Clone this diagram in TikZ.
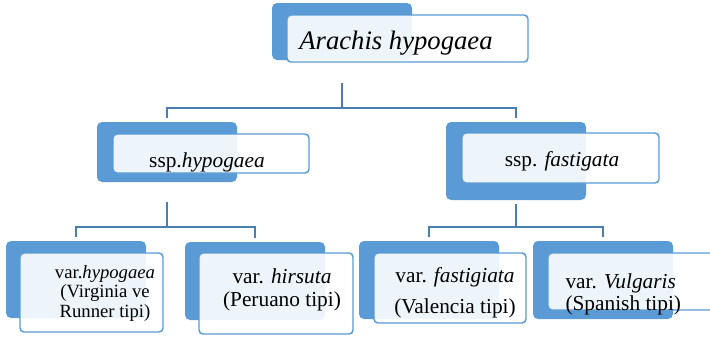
\documentclass[tikz,border=0pt]{standalone}
\usepackage{fontspec}
\setmainfont{Liberation Serif}
\usetikzlibrary{fit}
\definecolor{boxblue}{RGB}{91,155,213}
\definecolor{lineblue}{RGB}{74,126,178}
\tikzset{every picture/.style={line width=0.75pt}}
\tikzset{
  backbox/.style={fill=boxblue, draw=none, rounded corners=3.75pt, inner sep=0pt},
  frontbox/.style={fill=white, fill opacity=0.9, draw=boxblue, line width=1.1pt, rounded corners=3pt, inner sep=0pt},
  conn/.style={draw=lineblue, line width=1.5pt},
  lbl/.style={inner sep=0pt, font=\fontsize{16}{19}\selectfont}
}

\begin{document}
\begin{tikzpicture}[x=0.75pt,y=0.75pt,yscale=-1,xscale=1]
		\clip (0,0) rectangle (710,340);
		
		%Shape: Rectangle (top)
		\node[backbox, fit={(272,3) (412,60)}] (rootback) {};
		\node[frontbox, fit={(287,15) (528,62)}] (root) {};
		\node[lbl, font=\fontsize{20}{24}\selectfont\itshape, anchor=base] (roottxt) at (396,49) {Arachis hypogaea};
		
		%Shape: Rectangle (ssp)
		\node[backbox, fit={(97,122) (237,182)}] (sspAback) {};
		\node[frontbox, fit={(113,134) (309,173)}] (sspA) {};
		\node[lbl, anchor=base] (sspAtxt) at (207,167) {ssp.\textit{hypogaea}};
		
		\node[backbox, fit={(446,122) (586,200)}] (sspBback) {};
		\node[frontbox, fit={(462,133) (659,183)}] (sspB) {};
		\node[lbl, anchor=base] (sspBtxt) at (562,166) {ssp. \textit{fastigata}};
		
		%Shape: Rectangle (var)
		\node[backbox, fit={(6,241) (146,318)}] (varAback) {};
		\node[frontbox, fit={(20,253) (163,332)}] (varA) {};
		\node[lbl, font=\fontsize{14}{14.6}\selectfont, align=center, anchor=base] (varAtxt) at (105,317) {var.\textit{hypogaea}\\(Virginia ve\\Runner tipi)};
		
		\node[backbox, fit={(185,242) (325,320)}] (varBback) {};
		\node[frontbox, fit={(199,253) (353,334)}] (varB) {};
		\node[lbl, font=\fontsize{16}{17.25}\selectfont, align=center, anchor=base] (varBtxt) at (282,306) {var. \textit{hirsuta}\\(Peruano tipi)};
		
		\node[backbox, fit={(359,241) (499,319)}] (varCback) {};
		\node[frontbox, fit={(374,253) (526,323)}] (varC) {};
		\node[lbl, font=\fontsize{16}{23.25}\selectfont, align=center, anchor=base] (varCtxt) at (455,313) {var. \textit{fastigiata}\\(Valencia tipi)};
		
		\node[backbox, fit={(533,241) (673,319)}] (varDback) {};
		\node[frontbox, fit={(548,253) (730,310)}] (varD) {};
		\node[lbl, font=\fontsize{16}{16.5}\selectfont, align=left, anchor=base west] (varDtxt) at (565,310) {var. \textit{Vulgaris}\\(Spanish tipi)};
		
		%Straight Lines
		\coordinate (rootstem) at (342,83);
		\coordinate (rootbus) at (342,108);
		\draw[conn] (rootstem) -- (rootbus);
		\draw[conn, shorten >=3pt] (rootbus) -| (sspAback.north);
		\draw[conn, shorten >=3pt] (rootbus) -| (sspBback.north);
		
		\coordinate (sspAstem) at (167,202);
		\coordinate (sspAbus) at (167,227);
		\draw[conn] (sspAstem) -- (sspAbus);
		\draw[conn, shorten >=3pt] (sspAbus) -| (varAback.north);
		\draw[conn, shorten >=3pt] (sspAbus) -| (varBback.north);
		
		\coordinate (sspBstem) at (516,204);
		\coordinate (sspBbus) at (516,227);
		\draw[conn] (sspBstem) -- (sspBbus);
		\draw[conn, shorten >=3pt] (sspBbus) -| (varCback.north);
		\draw[conn, shorten >=3pt] (sspBbus) -| (varDback.north);
		
\end{tikzpicture}
\end{document}
